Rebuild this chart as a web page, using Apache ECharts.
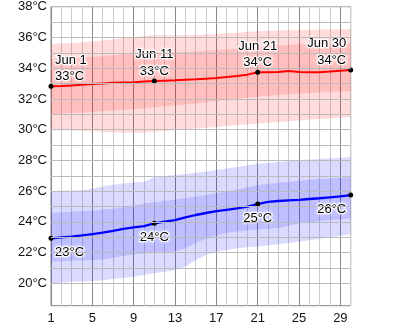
<!DOCTYPE html>
<html><head><meta charset="utf-8">
<script src="https://cdn.jsdelivr.net/npm/echarts@6/dist/echarts.min.js"></script>
<style>html,body{margin:0;padding:0;background:#fff}#c{width:400px;height:329px}</style>
</head><body><div id="c"></div>
<script>
const days = [1,2,3,4,5,6,7,8,9,10,11,12,13,14,15,16,17,18,19,20,21,22,23,24,25,26,27,28,29,30];
const highMean = [32.82,32.84,32.88,32.92,32.97,33.01,33.05,33.07,33.09,33.13,33.17,33.19,33.21,33.25,33.28,33.32,33.36,33.42,33.49,33.58,33.73,33.74,33.76,33.82,33.76,33.74,33.74,33.78,33.84,33.88];
const highP90 = [35.57,35.60,35.64,35.68,35.73,35.80,35.87,35.95,36.03,36.10,36.14,36.15,36.15,36.16,36.16,36.19,36.23,36.27,36.31,36.35,36.40,36.43,36.45,36.47,36.48,36.50,36.51,36.52,36.53,36.55];
const highP75 = [34.58,34.62,34.66,34.70,34.74,34.78,34.84,34.90,34.95,34.98,35.00,35.02,35.04,35.06,35.08,35.12,35.17,35.22,35.28,35.34,35.40,35.44,35.48,35.52,35.55,35.57,35.58,35.60,35.61,35.62];
const highP25 = [31.00,31.04,31.08,31.12,31.16,31.20,31.25,31.30,31.35,31.40,31.46,31.52,31.58,31.64,31.70,31.78,31.86,31.93,32.00,32.07,32.14,32.20,32.25,32.30,32.34,32.38,32.42,32.45,32.48,32.50];
const highP10 = [29.98,29.97,29.95,29.93,29.90,29.87,29.84,29.82,29.80,29.82,29.86,29.92,29.98,30.03,30.08,30.13,30.18,30.24,30.30,30.35,30.40,30.45,30.50,30.55,30.60,30.65,30.70,30.74,30.78,30.82];
const lowMean = [22.93,23.00,23.05,23.12,23.21,23.30,23.42,23.55,23.65,23.72,23.91,24.02,24.12,24.30,24.45,24.58,24.70,24.79,24.88,25.00,25.16,25.31,25.36,25.40,25.44,25.49,25.54,25.60,25.66,25.75];
const lowP90 = [26.01,26.02,26.04,26.06,26.15,26.30,26.42,26.50,26.56,26.62,26.90,26.98,27.05,27.12,27.20,27.28,27.38,27.48,27.58,27.68,27.78,27.84,27.90,27.96,28.02,28.06,28.10,28.14,28.18,28.22];
const lowP75 = [24.60,24.63,24.67,24.71,24.75,24.80,24.86,24.95,25.06,25.20,25.30,25.38,25.46,25.55,25.65,25.75,25.86,25.98,26.10,26.25,26.40,26.48,26.55,26.62,26.68,26.74,26.79,26.84,26.88,26.92];
const lowP25 = [21.41,21.44,21.47,21.49,21.50,21.55,21.65,21.78,21.88,21.95,21.99,22.03,22.07,22.30,22.62,22.90,23.12,23.30,23.38,23.44,23.50,23.55,23.60,23.75,23.90,23.98,24.05,24.12,24.18,24.23];
const lowP10 = [20.00,20.05,20.10,20.13,20.16,20.20,20.28,20.36,20.44,20.55,20.66,20.76,20.86,21.10,21.50,21.85,22.06,22.18,22.28,22.35,22.40,22.47,22.55,22.63,22.71,22.80,22.90,23.00,23.10,23.18];
const xTickLabels = [1,5,9,13,17,21,25,29];
const yTickLabels = [20,22,24,26,28,30,32,34,36,38];
const yGridValues = [20,21,22,23,24,25,26,27,28,29,30,31,32,33,34,35,36,37,38];
const markedDays = [1,11,21,30];
const monthName = 'Jun';
const yMin = 18.55, yMax = 38;

const FONT = '"Liberation Sans", Arial, sans-serif';
const bands = [
  {lower: highP10, upper: highP90, fill: 'rgba(255,0,0,0.14)'},
  {lower: highP25, upper: highP75, fill: 'rgba(255,0,0,0.13)'},
  {lower: lowP10, upper: lowP90, fill: 'rgba(0,0,255,0.14)'},
  {lower: lowP25, upper: lowP75, fill: 'rgba(0,0,255,0.13)'}
];

function labelItems(arr) {
  return markedDays.map((d, i) => {
    const item = {value: [d, arr[days.indexOf(d)]]};
    if (i === 0) item.label = {align: 'left', offset: [4, 0]};
    else if (i === markedDays.length - 1) item.label = {align: 'right', offset: [-4.5, 0]};
    else item.label = {align: 'center'};
    return item;
  });
}
const labelStyle = {
  show: true, fontSize: 13, fontFamily: FONT, color: '#000', lineHeight: 16.5, opacity: 1,
  textBorderColor: 'rgba(255,255,255,0.9)', textBorderWidth: 2, textShadowColor: '#fff', textShadowBlur: 3
};

const chart = echarts.init(document.getElementById('c'), null, {renderer: 'canvas'});
chart.setOption({
  animation: false,
  grid: {left: 51, right: 49.3, top: 6.7, bottom: 23.3, show: true, borderColor: '#888', borderWidth: 1, backgroundColor: 'transparent'},
  xAxis: {
    type: 'value', min: 1, max: 30, interval: 1,
    axisLine: {show: false}, axisTick: {show: false},
    splitLine: {show: true, lineStyle: {color: ['#888', '#ccc', '#ccc', '#ccc'], width: 1}},
    axisLabel: {customValues: xTickLabels, color: '#111', fontSize: 13, fontFamily: FONT, margin: 6}
  },
  yAxis: {
    type: 'value', min: yMin, max: yMax,
    axisLine: {show: false}, axisTick: {show: false}, splitLine: {show: false},
    axisLabel: {customValues: yTickLabels, formatter: '{value}°C', color: '#111', fontSize: 13, fontFamily: FONT, margin: 4}
  },
  series: [
    {
      type: 'line', data: [], z: 1, silent: true,
      markLine: {
        silent: true, symbol: ['none', 'none'], label: {show: false}, animation: false,
        lineStyle: {color: '#bbb', width: 1, type: 'solid'},
        emphasis: {disabled: true},
        data: yGridValues.map(v => ({yAxis: v}))
      }
    },
    {
      type: 'custom', z: 2, silent: true,
      data: bands.map((b, i) => [i]),
      encode: {x: -1, y: -1},
      renderItem: function (params, api) {
        const b = bands[params.dataIndex];
        const pts = [];
        days.forEach((d, i) => pts.push(api.coord([d, b.upper[i]])));
        for (let i = days.length - 1; i >= 0; i--) pts.push(api.coord([days[i], b.lower[i]]));
        return {type: 'polygon', shape: {points: pts}, style: {fill: b.fill, stroke: null}};
      }
    },
    {type: 'line', z: 3, data: days.map((d, i) => [d, highMean[i]]), symbol: 'none', lineStyle: {color: '#ff0000', width: 2}, silent: true},
    {type: 'line', z: 3, data: days.map((d, i) => [d, lowMean[i]]), symbol: 'none', lineStyle: {color: '#0000ff', width: 2.3}, silent: true},
    {
      type: 'scatter', z: 4, symbolSize: 5, itemStyle: {color: '#000', opacity: 1}, silent: true, clip: false,
      data: labelItems(highMean),
      label: Object.assign({}, labelStyle, {position: 'top', distance: -1,
        formatter: p => monthName + ' ' + p.value[0] + '\n' + Math.round(p.value[1]) + '°C'})
    },
    {
      type: 'scatter', z: 4, symbolSize: 5, itemStyle: {color: '#000', opacity: 1}, silent: true, clip: false,
      data: labelItems(lowMean),
      label: Object.assign({}, labelStyle, {position: 'bottom', distance: 3.5,
        formatter: p => Math.round(p.value[1]) + '°C'})
    }
  ]
});
</script></body></html>
